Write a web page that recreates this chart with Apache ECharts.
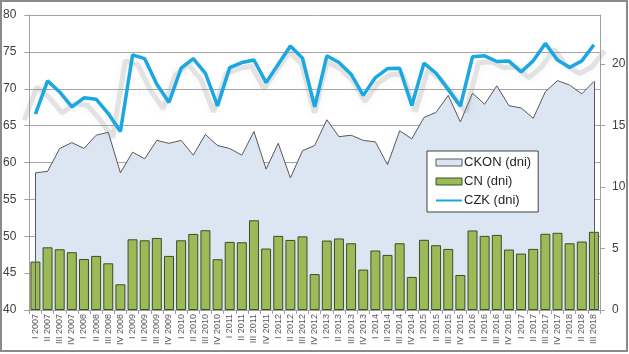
<!DOCTYPE html>
<html>
<head>
<meta charset="utf-8">
<script src="https://cdn.jsdelivr.net/npm/echarts@6/dist/echarts.min.js"></script>
<style>
html,body{margin:0;padding:0;background:#fff;}
#c{width:629px;height:354px;}
</style>
</head>
<body>
<div id="c"></div>
<script>
var categories = [
  'I 2007','II 2007','III 2007','IV 2007',
  'I 2008','II 2008','III 2008','IV 2008',
  'I 2009','II 2009','III 2009','IV 2009',
  'I 2010','II 2010','III 2010','IV 2010',
  'I 2011','II 2011','III 2011','IV 2011',
  'I 2012','II 2012','III 2012','IV 2012',
  'I 2013','II 2013','III 2013','IV 2013',
  'I 2014','II 2014','III 2014','IV 2014',
  'I 2015','II 2015','III 2015','IV 2015',
  'I 2016','II 2016','III 2016','IV 2016',
  'I 2017','II 2017','III 2017','IV 2017',
  'I 2018','II 2018','III 2018'
];
// CKON (dni) - left axis
var ckon = [
  58.6, 58.8, 61.9, 62.7,
  61.9, 63.7, 64.1, 58.6,
  61.4, 60.5, 63.0, 62.6,
  63.0, 61.0, 63.8, 62.3,
  61.9, 61.0, 64.2, 59.1,
  62.6, 57.9, 61.6, 62.3,
  65.8, 63.5, 63.7, 63.0,
  62.8, 59.7, 64.3, 63.2,
  66.1, 66.8, 69.1, 65.5,
  69.4, 67.9, 70.4, 67.7,
  67.4, 66.0, 69.6, 71.1,
  70.5, 69.3, 71.0
];
// CN (dni) - right axis
var cn = [
  3.94, 5.10, 4.94, 4.70,
  4.15, 4.40, 3.80, 2.09,
  5.75, 5.67, 5.86, 4.40,
  5.67, 6.19, 6.49, 4.13,
  5.54, 5.51, 7.30, 5.00,
  6.03, 5.70, 5.99, 2.92,
  5.65, 5.82, 5.43, 3.29,
  4.84, 4.48, 5.43, 2.69,
  5.71, 5.27, 4.97, 2.85,
  6.47, 6.03, 6.11, 4.92,
  4.59, 4.97, 6.20, 6.28,
  5.43, 5.57, 6.36
];
// CZK (dni) - right axis
var czk = [
  15.93, 18.64, 17.74, 16.52,
  17.26, 17.15, 15.98, 14.52,
  20.75, 20.45, 18.37, 16.88,
  19.67, 20.45, 19.26, 16.60,
  19.72, 20.13, 20.34, 18.50,
  19.99, 21.48, 20.48, 16.52,
  20.68, 20.14, 19.18, 17.46,
  18.91, 19.64, 19.67, 16.64,
  20.08, 19.26, 17.95, 16.58,
  20.60, 20.68, 20.22, 20.25,
  19.37, 20.27, 21.69, 20.33,
  19.73, 20.27, 21.58
];
var leftTicks = {min: 40, max: 80, step: 5};
var rightTicks = {min: 0, max: 24, step: 5};

var last = categories.length - 1;
var chart = echarts.init(document.getElementById('c'), null, {renderer: 'canvas'});
var labelFont = 'Liberation Sans, Arial, sans-serif';
chart.setOption({
  animation: false,
  backgroundColor: '#ffffff',
  textStyle: {fontFamily: labelFont},
  grid: [
    {left: 29, right: 29, top: 15, bottom: 44},
    {left: 18, right: 18, top: 21, bottom: 38}
  ],
  legend: {
    orient: 'vertical',
    left: 427, top: 151,
    backgroundColor: '#ffffff',
    borderColor: '#404040', borderWidth: 1,
    padding: [4, 7, 4, 8],
    itemWidth: 26, itemHeight: 7, itemGap: 4,
    textStyle: {fontSize: 13, color: '#262626', lineHeight: 15, padding: [0, 0, 0, -3]},
    data: [
      {name: 'CKON (dni)', icon: 'rect', itemStyle: {color: '#dce6f2', borderColor: '#595959', borderWidth: 1}},
      {name: 'CN (dni)', icon: 'rect', itemStyle: {color: '#9bbb59', borderColor: '#3f4d22', borderWidth: 1}},
      {name: 'CZK (dni)', itemStyle: {opacity: 0}}
    ]
  },
  xAxis: [
    {
      type: 'category', gridIndex: 0, data: categories, boundaryGap: true,
      axisLine: {lineStyle: {color: '#a0a0a0'}},
      axisTick: {show: true, length: 4, lineStyle: {color: '#a0a0a0'}},
      axisLabel: {rotate: 90, interval: 0, fontSize: 9, color: '#595959', margin: 4}
    },
    {
      type: 'category', gridIndex: 1, data: categories, boundaryGap: true, show: false
    }
  ],
  yAxis: [
    {
      type: 'value', gridIndex: 0, position: 'left',
      min: leftTicks.min, max: leftTicks.max, interval: leftTicks.step,
      axisLine: {show: true, lineStyle: {color: '#a0a0a0'}},
      axisTick: {show: true, length: 5, lineStyle: {color: '#a0a0a0'}},
      axisLabel: {fontSize: 12, color: '#404040', margin: 13},
      splitLine: {show: true, lineStyle: {color: '#a6a6a6'}}
    },
    {
      type: 'value', gridIndex: 0, position: 'right',
      min: rightTicks.min, max: rightTicks.max, interval: rightTicks.step,
      axisLine: {show: true, lineStyle: {color: '#a0a0a0'}},
      axisTick: {show: true, length: 5, lineStyle: {color: '#a0a0a0'}},
      axisLabel: {fontSize: 12, color: '#404040', margin: 12, showMaxLabel: false},
      splitLine: {show: false}
    },
    {
      type: 'value', gridIndex: 1, min: rightTicks.min, max: rightTicks.max, show: false
    }
  ],
  series: [
    {
      name: 'CKON (dni)', type: 'line', xAxisIndex: 0, yAxisIndex: 0,
      data: ckon, symbol: 'none', showSymbol: false,
      lineStyle: {color: '#595959', width: 1},
      itemStyle: {color: '#dce6f2'},
      areaStyle: {color: '#dce6f2', opacity: 1, origin: 'start'},
      markLine: {
        silent: true, symbol: 'none', label: {show: false},
        lineStyle: {color: '#595959', width: 1, type: 'solid'},
        data: [
          [{coord: [categories[0], leftTicks.min]}, {coord: [categories[0], ckon[0]]}],
          [{coord: [categories[last], leftTicks.min]}, {coord: [categories[last], ckon[last]]}]
        ]
      },
      z: 1
    },
    {
      name: 'CN (dni)', type: 'bar', xAxisIndex: 0, yAxisIndex: 1,
      data: cn, barCategoryGap: '18%',
      itemStyle: {color: '#9bbb59', borderColor: '#3f4d22', borderWidth: 1},
      z: 2
    },
    {
      name: 'czk-shadow', type: 'line', xAxisIndex: 1, yAxisIndex: 2,
      data: czk, symbol: 'none', showSymbol: false, silent: true,
      lineStyle: {color: 'rgba(140,140,140,0.22)', width: 5, shadowColor: 'rgba(140,140,140,0.45)', shadowBlur: 8},
      z: 3
    },
    {
      name: 'CZK (dni)', type: 'line', xAxisIndex: 0, yAxisIndex: 1,
      data: czk, symbol: 'none', showSymbol: false,
      lineStyle: {color: '#1ba7e1', width: 3.5},
      itemStyle: {color: '#1ba7e1'},
      z: 4
    }
  ],
  graphic: [
    {type: 'rect', silent: true, z: 100,
     shape: {x: 1, y: 1, width: 626, height: 350},
     style: {fill: 'none', stroke: '#8a8a8a', lineWidth: 2}}
  ]
});
</script>
</body>
</html>
